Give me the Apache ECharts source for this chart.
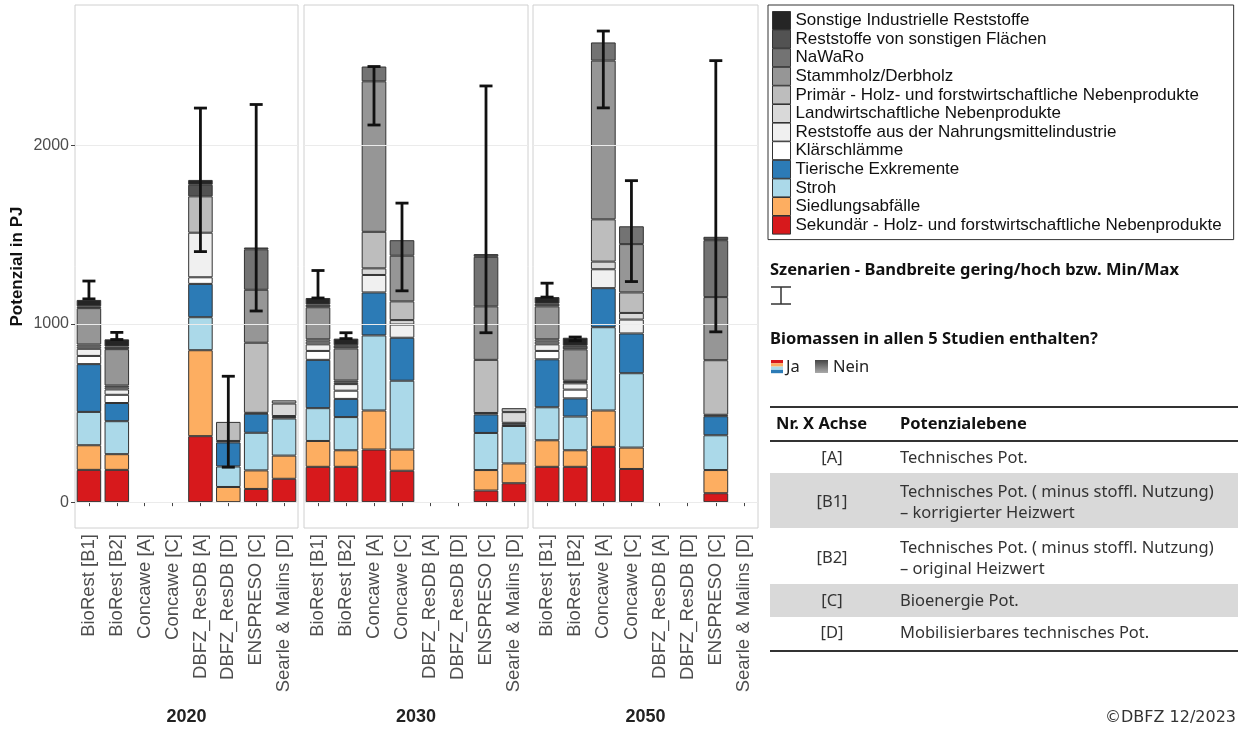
<!DOCTYPE html>
<html><head><meta charset="utf-8">
<script src="https://cdn.jsdelivr.net/npm/echarts@6/dist/echarts.min.js"></script>
<style>html,body{margin:0;padding:0;background:#fff}#c{width:1238px;height:731px}</style>
</head><body><div id="c"></div>
<script>
// ---------- DATA ----------
const categories = ['BioRest [B1]', 'BioRest [B2]', 'Concawe [A]', 'Concawe [C]', 'DBFZ_ResDB [A]', 'DBFZ_ResDB [D]', 'ENSPRESO [C]', 'Searle & Malins [D]'];
const years = ['2020', '2030', '2050'];
const yTicks = [0, 1000, 2000];
// stacking order bottom -> top
const seriesNames = [
  'Sekundär - Holz- und forstwirtschaftliche Nebenprodukte',
  'Siedlungsabfälle',
  'Stroh',
  'Tierische Exkremente',
  'Klärschlämme',
  'Reststoffe aus der Nahrungsmittelindustrie',
  'Landwirtschaftliche Nebenprodukte',
  'Primär - Holz- und forstwirtschaftliche Nebenprodukte',
  'Stammholz/Derbholz',
  'NaWaRo',
  'Reststoffe von sonstigen Flächen',
  'Sonstige Industrielle Reststoffe'
];
const seriesColors = ['#d7191c', '#fdae61', '#abd9e9', '#2c7bb6', '#ffffff', '#f0f0f0', '#d9d9d9', '#bdbdbd', '#969696', '#737373', '#525252', '#252525'];

// values in PJ, one row per series (same order as seriesNames), one column per category
const values2020 = [
  [181, 181, null, null, 370, 0, 74, 131],
  [138, 88, null, null, 482, 85, 104, 130],
  [187, 185, null, null, 185, 115, 211, 208],
  [268, 102, null, null, 187, 135, 107, 8],
  [46, 46, null, null, 37, 8, 5, 6],
  [40, 30, null, null, 250, 0, 0, 0],
  [12, 12, null, null, 0, 0, 0, 70],
  [12, 10, null, null, 204, 107, 393, 18],
  [204, 204, null, null, 0, 0, 297, 0],
  [0, 0, null, null, 0, 0, 227, 0],
  [10, 15, null, null, 65, 0, 10, 0],
  [36, 40, null, null, 27, 0, 0, 0]
];
const values2030 = [
  [198, 198, 295, 176, null, null, 65, 106],
  [145, 93, 219, 119, null, null, 115, 111],
  [184, 186, 421, 386, null, null, 208, 210],
  [271, 102, 241, 241, null, null, 104, 10],
  [50, 46, 0, 0, null, null, 8, 8],
  [37, 37, 98, 74, null, null, 0, 0],
  [15, 10, 37, 25, null, null, 0, 60],
  [13, 10, 205, 105, null, null, 298, 22],
  [180, 180, 844, 256, null, null, 300, 0],
  [0, 0, 83, 87, null, null, 278, 0],
  [15, 18, 0, 0, null, null, 15, 0],
  [37, 37, 0, 0, null, null, 0, 0]
];
const values2050 = [
  [198, 198, 310, 186, null, null, 50, null],
  [149, 93, 204, 120, null, null, 130, null],
  [185, 189, 467, 417, null, null, 195, null],
  [269, 102, 219, 223, null, null, 107, null],
  [47, 49, 0, 0, null, null, 8, null],
  [37, 35, 106, 78, null, null, 0, null],
  [15, 8, 43, 37, null, null, 0, null],
  [13, 7, 237, 115, null, null, 306, null],
  [185, 176, 890, 271, null, null, 354, null],
  [0, 0, 102, 100, null, null, 319, null],
  [15, 20, 0, 0, null, null, 19, null],
  [37, 45, 0, 0, null, null, 0, null]
];
// scenario range (low / high)
const errLow2020 = [1140, 912, null, null, 1405, 196, 1072, null];
const errHigh2020 = [1240, 952, null, null, 2210, 706, 2230, null];
const errLow2030 = [1145, 917, 2115, 1185, null, null, 950, null];
const errHigh2030 = [1299, 950, 2443, 1677, null, null, 2334, null];
const errLow2050 = [1150, 905, 2211, 1237, null, null, 955, null];
const errHigh2050 = [1228, 926, 2642, 1803, null, null, 2476, null];

const valuesByYear = [values2020, values2030, values2050];
const errLowByYear = [errLow2020, errLow2030, errLow2050];
const errHighByYear = [errHigh2020, errHigh2030, errHigh2050];

// ---------- CHART ----------
const chart = echarts.init(document.getElementById('c'), null, {renderer: 'canvas'});
const panelBoxes = [[75, 223], [304, 224], [533, 225]];
const FONT = "'Liberation Sans', Arial, sans-serif";
const FONT2 = "'Noto Sans', sans-serif";

const grid = [], xAxis = [], yAxis = [], series = [];
years.forEach((yr, i) => {
  grid.push({left: panelBoxes[i][0], width: panelBoxes[i][1], top: 5, height: 525, show: true, borderColor: '#d0d0d0', borderWidth: 1, backgroundColor: 'transparent'});
  xAxis.push({
    type: 'category', gridIndex: i, data: categories,
    axisLine: {show: false},
    axisTick: {show: true, alignWithLabel: true, length: 4, lineStyle: {color: '#444'}},
    axisLabel: {rotate: 90, interval: 0, fontSize: 18.5, color: '#4d4d4d', margin: 6, fontFamily: FONT},
    name: yr, nameLocation: 'middle', nameGap: 180,
    nameTextStyle: {fontWeight: 'bold', fontSize: 18, color: '#222', fontFamily: FONT}
  });
  yAxis.push({
    type: 'value', gridIndex: i, min: -145, max: 2788,
    splitLine: {show: false}, axisLine: {show: false},
    axisTick: {show: i === 0, customValues: yTicks, length: 4, lineStyle: {color: '#444'}},
    axisLabel: {show: i === 0, customValues: yTicks, formatter: v => String(v), fontSize: 16, color: '#4d4d4d', margin: 6, fontFamily: FONT},
    name: i === 0 ? 'Potenzial in PJ' : '', nameLocation: 'middle', nameGap: 49,
    nameTextStyle: {fontWeight: 'bold', fontSize: 17, color: '#111', fontFamily: FONT}
  });
  // gridlines
  series.push({
    type: 'line', xAxisIndex: i, yAxisIndex: i, data: [], z: 1, silent: true,
    markLine: {silent: true, symbol: ['none', 'none'], label: {show: false}, animation: false,
      lineStyle: {color: '#ebebeb', width: 1, type: 'solid'},
      data: yTicks.map(v => ({yAxis: v}))}
  });
  seriesNames.forEach((nm, s) => {
    series.push({
      type: 'bar', name: nm, xAxisIndex: i, yAxisIndex: i, stack: 'st' + i,
      barWidth: '88%', z: 2,
      itemStyle: {color: seriesColors[s], borderColor: '#333', borderWidth: 1},
      emphasis: {disabled: true},
      data: valuesByYear[i][s].map(v => (v ? v : null))
    });
  });
  const eData = [];
  categories.forEach((c, k) => {
    if (errLowByYear[i][k] != null) eData.push([k, errLowByYear[i][k], errHighByYear[i][k]]);
  });
  series.push({
    type: 'custom', xAxisIndex: i, yAxisIndex: i, z: 10, silent: true,
    encode: {x: 0, y: [1, 2]}, data: eData,
    renderItem: (params, api) => {
      const x = api.value(0);
      const lo = api.coord([x, api.value(1)]);
      const hi = api.coord([x, api.value(2)]);
      const hw = 6.5;
      const st = {stroke: '#111', lineWidth: 2.8};
      return {type: 'group', children: [
        {type: 'line', shape: {x1: lo[0], y1: lo[1], x2: hi[0], y2: hi[1]}, style: st},
        {type: 'line', shape: {x1: lo[0] - hw, y1: lo[1], x2: lo[0] + hw, y2: lo[1]}, style: st},
        {type: 'line', shape: {x1: hi[0] - hw, y1: hi[1], x2: hi[0] + hw, y2: hi[1]}, style: st}
      ]};
    }
  });
});

// right-hand annotation (legend-like keys and table)
const g = [];
const txt = (x, y, text, opt) => g.push(Object.assign({type: 'text', x: x, y: y, style: Object.assign({text: text, fill: '#222', font: '16.5px ' + FONT2, textVerticalAlign: 'middle', verticalAlign: 'middle'}, opt || {})}));
txt(770, 270, 'Szenarien - Bandbreite gering/hoch bzw. Min/Max', {font: 'bold 16.5px ' + FONT2, fill: '#111'});
g.push({type: 'line', shape: {x1: 781, y1: 287, x2: 781, y2: 304}, style: {stroke: '#333', lineWidth: 1.5}});
g.push({type: 'line', shape: {x1: 771, y1: 287, x2: 791, y2: 287}, style: {stroke: '#333', lineWidth: 1.5}});
g.push({type: 'line', shape: {x1: 771, y1: 304, x2: 791, y2: 304}, style: {stroke: '#333', lineWidth: 1.5}});
txt(770, 339, 'Biomassen in allen 5 Studien enthalten?', {font: 'bold 16.5px ' + FONT2, fill: '#111'});
['#d7191c', '#fdae61', '#abd9e9', '#2c7bb6'].forEach((c, k) => g.push({type: 'rect', shape: {x: 771, y: 360 + k * 3.3, width: 12, height: 3.3}, style: {fill: c}}));
txt(786, 367, 'Ja', {font: '16.5px ' + FONT2});
g.push({type: 'rect', shape: {x: 815, y: 360, width: 13, height: 13}, style: {fill: new echarts.graphic.LinearGradient(0, 0, 0, 1, [{offset: 0, color: '#444'}, {offset: 1, color: '#aaa'}])}});
txt(833, 367, 'Nein', {font: '16.5px ' + FONT2});

// table
g.push({type: 'rect', shape: {x: 770, y: 473, width: 468, height: 55}, style: {fill: '#d9d9d9'}});
g.push({type: 'rect', shape: {x: 770, y: 584, width: 468, height: 33}, style: {fill: '#d9d9d9'}});
g.push({type: 'line', shape: {x1: 770, y1: 407, x2: 1238, y2: 407}, style: {stroke: '#333', lineWidth: 2}});
g.push({type: 'line', shape: {x1: 770, y1: 441, x2: 1238, y2: 441}, style: {stroke: '#333', lineWidth: 2}});
g.push({type: 'line', shape: {x1: 770, y1: 651, x2: 1238, y2: 651}, style: {stroke: '#333', lineWidth: 2}});
txt(776, 424, 'Nr. X Achse', {font: 'bold 16.5px ' + FONT2, fill: '#111'});
txt(900, 424, 'Potenzialebene', {font: 'bold 16.5px ' + FONT2, fill: '#111'});
const rows = [
  ['[A]', ['Technisches Pot.'], 458],
  ['[B1]', ['Technisches Pot. ( minus stoffl. Nutzung)', '– korrigierter Heizwert'], 502],
  ['[B2]', ['Technisches Pot. ( minus stoffl. Nutzung)', '– original Heizwert'], 558],
  ['[C]', ['Bioenergie Pot.'], 601],
  ['[D]', ['Mobilisierbares technisches Pot.'], 633]
];
rows.forEach(r => {
  txt(832, r[2], r[0], {textAlign: 'center', align: 'center', fill: '#333'});
  if (r[1].length === 1) txt(900, r[2], r[1][0], {fill: '#333'});
  else { txt(900, r[2] - 10, r[1][0], {fill: '#333'}); txt(900, r[2] + 11, r[1][1], {fill: '#333'}); }
});
txt(1236, 718, '©DBFZ 12/2023', {textAlign: 'right', align: 'right', font: '16px DejaVu Sans, sans-serif', fill: '#333'});

chart.setOption({
  animation: false,
  backgroundColor: '#ffffff',
  grid: grid, xAxis: xAxis, yAxis: yAxis, series: series,
  legend: {
    data: seriesNames.slice().reverse(), orient: 'vertical', left: 768, top: 5,
    itemWidth: 18, itemHeight: 18, itemGap: -0.4, padding: [6, 12, 5, 4],
    borderColor: '#333', borderWidth: 1, icon: 'rect', selectedMode: false,
    itemStyle: {borderColor: '#333', borderWidth: 1},
    textStyle: {fontSize: 17, lineHeight: 15, color: '#111', fontFamily: FONT}
  },
  graphic: g
});
</script>
</body></html>
